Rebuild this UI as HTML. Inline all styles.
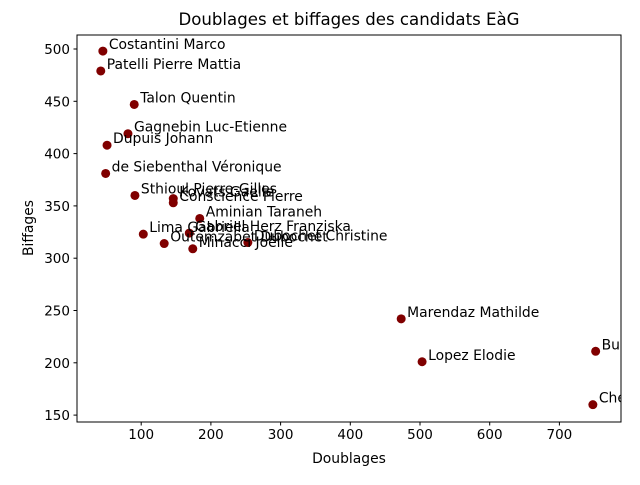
<!DOCTYPE html>
<html><head><meta charset="utf-8"><style>
body{margin:0;background:#fff}
svg{font-family:"DejaVu Sans","Liberation Sans",sans-serif}
</style></head><body>
<svg id="chart" width="640" height="480" viewBox="0 0 640 480" xmlns="http://www.w3.org/2000/svg">
<defs><clipPath id="clip"><rect x="77" y="35" width="544" height="387"/></clipPath></defs>
<rect x="0" y="0" width="640" height="480" fill="#fff"/>
<text x="349" y="25" font-size="16.6" text-anchor="middle">Doublages et biffages des candidats EàG</text>
<g id="ticks"></g>
<g id="marks"></g>
<g id="labels" clip-path="url(#clip)"></g>
<rect x="77" y="35" width="544" height="387" fill="none" stroke="#000" stroke-width="1"/>
<text x="349" y="463" font-size="13.9" text-anchor="middle">Doublages</text>
<text x="33" y="228" font-size="13.9" text-anchor="middle" transform="rotate(-90 33 228)">Biffages</text>
</svg>
<script>
const names = ["Costantini Marco","Patelli Pierre Mattia","Talon Quentin","Gagnebin Luc-Etienne","Dupuis Johann","de Siebenthal Véronique","Sthioul Pierre-Gilles","Kovats Gaelle","Conscience Pierre","Aminian Taraneh","Lima Gabriella","Gabriel Herz Franziska","Outemzabet Dubochet","Minacci Joëlle","Dubochet Christine","Marendaz Mathilde","Lopez Elodie","Buclin Hadrien","Chevalley Isabelle"];
const doublages = [45,42,90,81,51,49,91,146,146,184,103,169,133,174,253,473,503,752,748];
const biffages = [498,479,447,419,408,381,360,357,353,338,323,324,314,309,315,242,201,211,160];
const xTicks = [100,200,300,400,500,600,700];
const yTicks = [150,200,250,300,350,400,450,500];
const NS="http://www.w3.org/2000/svg";
function xs(v){return 71.5+v*0.697;}
function ys(v){return 49+(500-v)*1.046;}
function mk(t,a){const e=document.createElementNS(NS,t);for(const k in a)e.setAttribute(k,a[k]);return e;}
const tg=document.getElementById('ticks'),mg=document.getElementById('marks'),lg=document.getElementById('labels');
xTicks.forEach(v=>{const x=xs(v);
 const l=mk('line',{x1:x,x2:x,y1:422,y2:425.5,stroke:'#000'});
 
 
 tg.appendChild(l);
 const t=mk('text',{x:x,y:439,'font-size':13.5,'text-anchor':'middle'});t.textContent=v;
 
 
 tg.appendChild(t);});
yTicks.forEach(v=>{const y=ys(v);
 const l=mk('line',{x1:73.5,x2:77,y1:y,y2:y,stroke:'#000'});
 
 
 tg.appendChild(l);
 const t=mk('text',{x:70,y:y+5,'font-size':13.5,'text-anchor':'end'});t.textContent=v;
 
 
 tg.appendChild(t);});
names.forEach((n,i)=>{const x=xs(doublages[i]),y=ys(biffages[i]);
 const c=mk('circle',{cx:x,cy:y,r:4.5,fill:'#800000'});
 
 
 mg.appendChild(c);
 const t=mk('text',{x:x+6,y:y-2,'font-size':13.9});t.textContent=n;
 
 
 lg.appendChild(t);});
</script>
</body></html>
